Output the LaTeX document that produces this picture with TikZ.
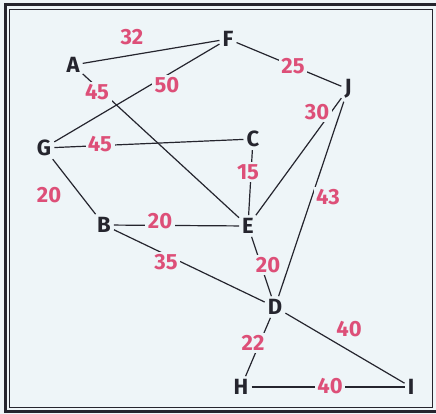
\documentclass[tikz,border=0pt]{standalone}
\usepackage{fontspec}
\setmainfont{Fira Sans}
\definecolor{paper}{HTML}{EEF5F8}
\definecolor{ink}{HTML}{25252E}
\definecolor{rose}{HTML}{DD4F78}
\begin{document}
\begin{tikzpicture}[x=1pt,y=-1pt,
        vertex/.style={text=ink,font=\fontsize{22}{24}\selectfont\bfseries,inner sep=3pt},
        weight/.style={text=rose,font=\fontsize{22}{24}\selectfont\bfseries,fill=paper,inner sep=2.5pt},
        edge/.style={draw=ink,line width=1.2pt}]
        \fill[paper] (0,0) rectangle (436,414);
        \useasboundingbox (0,0) rectangle (436,414);

        % frame
        \draw[ink,line width=3pt] (5,5) rectangle (440,411);
        \draw[ink,line width=0.9pt] (9.5,9.5) rectangle (432,407.5);

        % vertices
        \node[vertex] (F) at (228,39) {F};
        \node[vertex] (A) at (73,65) {A};
        \node[vertex] (J) at (348,89) {J};
        \node[vertex] (G) at (44,148) {G};
        \node[vertex] (C) at (253,139) {C};
        \node[vertex] (B) at (104,225) {B};
        \node[vertex] (E) at (248,226) {E};
        \node[vertex] (D) at (275,307) {D};
        \node[vertex] (H) at (241,387) {H};
        \node[vertex] (I) at (411,387) {I};

        % edges
        \draw[edge] (A) -- (F);
        \draw[edge] (F) -- (G);
        \draw[edge] (F) -- (J);
        \draw[edge] (A) -- (E);
        \draw[edge] (J) -- (E);
        \draw[edge] (J) -- (D);
        \draw[edge] (G) -- (C);
        \draw[edge] (C) -- (E);
        \draw[edge] (G) -- (B);
        \draw[edge] (B) -- (E);
        \draw[edge] (B) -- (D);
        \draw[edge] (E) -- (D);
        \draw[edge] (D) -- (H);
        \draw[edge] (D) -- (I);
        \draw[edge] (H) -- (I);

        % weights
        \node[weight] (wAF) at (132,37) {32};
        \node[weight] (wFJ) at (293,66) {25};
        \node[weight] (wAE) at (97,92) {45};
        \node[weight] (wFG) at (167,85) {50};
        \node[weight] (wJE) at (317,112) {30};
        \node[weight] (wGC) at (100,144) {45};
        \node[weight] (wCE) at (248,172) {15};
        \node[weight] (wGB) at (49,195) {20};
        \node[weight] (wJD) at (328,197) {43};
        \node[weight] (wBE) at (160,221) {20};
        \node[weight] (wBD) at (166,262) {35};
        \node[weight] (wED) at (268,265) {20};
        \node[weight] (wDI) at (349,329) {40};
        \node[weight] (wDH) at (253,343) {22};
        \node[weight] (wHI) at (330,386) {40};
\end{tikzpicture}
\end{document}
